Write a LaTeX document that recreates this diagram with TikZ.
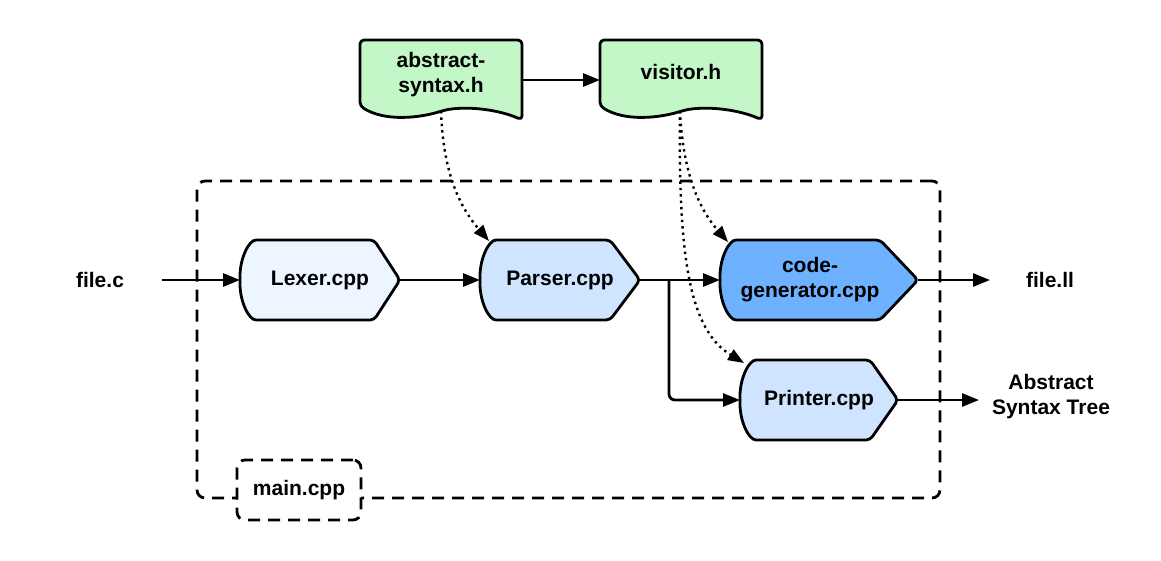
\documentclass[tikz,border=0pt]{standalone}
\usepackage{fontspec}
\setmainfont{Liberation Sans}
\usetikzlibrary{arrows.meta}
\definecolor{docgreen}{HTML}{C3F7C8}
\definecolor{lexblue}{HTML}{EDF5FF}
\definecolor{midblue}{HTML}{CFE4FF}
\definecolor{darkblue}{HTML}{6DB1FF}
\tikzset{
  shapeline/.style={line width=2.8pt, line join=round, rounded corners=4pt, draw=black},
  lbl/.style={font=\bfseries\fontsize{21}{25}\selectfont, align=center, inner sep=0pt},
  area/.style={inner sep=0pt, outer sep=0pt},
  arr/.style={line width=2.8pt, -{Triangle[length=17pt,width=13pt]}},
  dotarr/.style={line width=2.4pt, dash pattern=on 2.4pt off 4pt, -{Triangle[length=16pt,width=12pt]}},
  frame/.style={line width=2.8pt, dash pattern=on 12pt off 8pt, rounded corners=8pt, draw=black},
}
% x0, x1, ymid, tip depth, fill
\newcommand\dispshape[5]{%
  \draw[shapeline, fill=#5] (#1+60,#3-40) -- (#2-#4,#3-40) -- (#2,#3) -- (#2-#4,#3+40) -- (#1+20,#3+40)
    .. controls (#1+9,#3+40) and (#1,#3+22) .. (#1,#3)
    .. controls (#1,#3-22) and (#1+9,#3-40) .. (#1+20,#3-40) -- cycle;}
% x0, x1, fill
\newcommand\docshape[3]{%
  \draw[shapeline, fill=#3] (#1+80,40) -- (#2,40) -- (#2,120)
    .. controls (#2-22,110) and (#2-52,106) .. (#1+85,110)
    .. controls (#1+60,118) and (#1+25,122) .. (#1,106) -- (#1,40) -- cycle;}
\begin{document}
\begin{tikzpicture}[x=1pt,y=-1pt]
\useasboundingbox (0,0) rectangle (1161,560);

% container
\node[frame, area, minimum width=743pt, minimum height=317pt] (box) at (568.5,339.5) {};

% documents
\docshape{360}{522}{docgreen}
\docshape{600}{762}{docgreen}
\node[area, minimum width=162pt, minimum height=80pt] (abst) at (441,80) {};
\node[area, minimum width=162pt, minimum height=80pt] (visit) at (681,80) {};
\node[lbl] (abst-t) at (441,75) {abstract-\\syntax.h};
\node[lbl] (visit-t) at (681,72) {visitor.h};
\coordinate (abstb) at (441,111);
\coordinate (visitb) at (680,111);

% process shapes
\dispshape{240}{400}{280}{26}{lexblue}
\dispshape{480}{640}{280}{30}{midblue}
\dispshape{720}{918}{280}{38}{darkblue}
\dispshape{740}{898}{400}{28}{midblue}
\node[lbl, area, minimum width=160pt, minimum height=80pt] (lexer) at (320,280) {Lexer.cpp};
\node[lbl, area, minimum width=160pt, minimum height=80pt] (parser) at (560,280) {Parser.cpp};
\node[area, minimum width=198pt, minimum height=80pt] (codegen) at (819,280) {};
\node[lbl] (codegen-t) at (810,280) {code-\\generator.cpp};
\node[lbl, area, minimum width=158pt, minimum height=80pt] (printer) at (819,400) {Printer.cpp};

% main.cpp
\node[frame, area, fill=white, minimum width=124pt, minimum height=60pt, lbl] (main) at (299,490) {main.cpp};

% outside labels
\node[lbl] (filec) at (100,280) {file.c};
\node[lbl] (filell) at (1050,280) {file.ll};
\node[lbl] (ast) at (1051,397) {Abstract\\Syntax Tree};
\coordinate (filec-e) at (162,280);
\coordinate (filell-w) at (990,280);
\coordinate (ast-w) at (979,400);

% connectors
\draw[arr] (filec-e) -- (lexer.west);
\draw[arr] (lexer.east) -- (parser.west);
\draw[arr] (parser.east) -- (codegen.west);
\coordinate (branch) at (669,280);
\draw[arr, rounded corners=6pt] (branch) |- (printer.west);
\draw[arr] (codegen.east) -- (filell-w);
\draw[arr] (printer.east) -- (ast-w);
\draw[arr] (abst.east) -- (visit.west);

% dotted dependencies
\coordinate (parser-tl) at (489,241);
\coordinate (codegen-tl) at (728,242);
\coordinate (printer-tl) at (744,363);
\draw[dotarr] (abstb) .. controls (443,170) and (458,205) .. (parser-tl);
\draw[dotarr] (visitb) .. controls (683,175) and (700,210) .. (codegen-tl);
\draw[dotarr] (visitb) .. controls (678,260) and (690,330) .. (printer-tl);
\end{tikzpicture}
\end{document}
